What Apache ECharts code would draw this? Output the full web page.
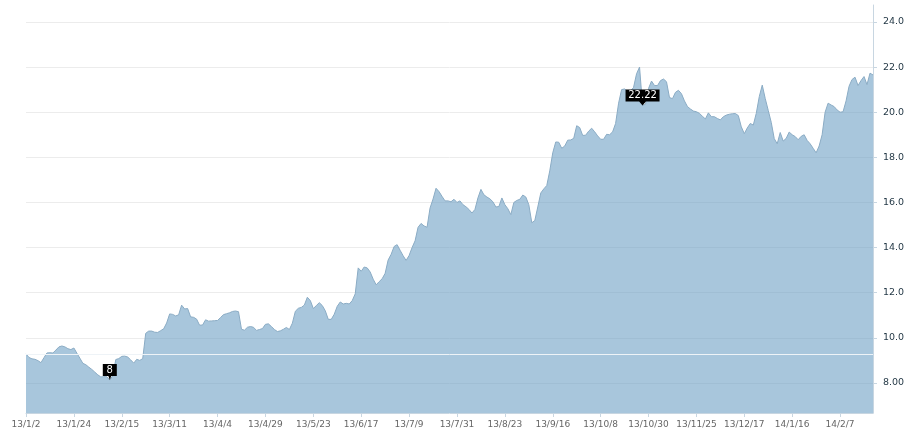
<!DOCTYPE html>
<html>
<head>
<meta charset="utf-8">
<script src="https://cdn.jsdelivr.net/npm/echarts@6/dist/echarts.min.js"></script>
<style>
  html, body { margin: 0; padding: 0; background: #fff; }
  #chart { width: 909px; height: 436px; }
</style>
</head>
<body>
<div id="chart"></div>
<script>
// Labelled dates on the x axis (one every 16 trading days)
var tickLabels = ['13/1/2', '13/1/24', '13/2/15', '13/3/11', '13/4/4', '13/4/29',
  '13/5/23', '13/6/17', '13/7/9', '13/7/31', '13/8/23', '13/9/16', '13/10/8',
  '13/10/30', '13/11/25', '13/12/17', '14/1/16', '14/2/7'];

// Closing prices
var prices = [
  9.29, 9.13, 9.07, 9.05, 8.99, 8.90, 9.12, 9.33, 9.34, 9.33, 9.46, 9.60, 9.64, 9.60, 9.52, 9.48,
  9.55, 9.32, 9.10, 8.87, 8.81, 8.70, 8.60, 8.48, 8.36, 8.27, 8.28, 8.28, 8.13, 8.33, 9.04, 9.08,
  9.18, 9.19, 9.15, 9.02, 8.88, 9.05, 9.00, 9.08, 10.20, 10.30, 10.30, 10.25, 10.24, 10.32, 10.40, 10.66,
  11.06, 11.04, 10.97, 11.02, 11.45, 11.28, 11.30, 10.93, 10.91, 10.83, 10.56, 10.57, 10.80, 10.74, 10.75, 10.76,
  10.77, 10.90, 11.03, 11.07, 11.11, 11.17, 11.19, 11.16, 10.38, 10.34, 10.47, 10.50, 10.47, 10.33, 10.37, 10.41,
  10.60, 10.62, 10.50, 10.37, 10.28, 10.31, 10.38, 10.46, 10.37, 10.65, 11.18, 11.31, 11.35, 11.45, 11.80, 11.65,
  11.30, 11.43, 11.56, 11.43, 11.20, 10.82, 10.82, 11.05, 11.40, 11.59, 11.50, 11.53, 11.50, 11.65, 11.95, 13.10,
  12.95, 13.14, 13.10, 12.92, 12.60, 12.35, 12.49, 12.62, 12.86, 13.45, 13.70, 14.05, 14.13, 13.88, 13.64, 13.43,
  13.65, 14.00, 14.30, 14.90, 15.07, 14.96, 14.90, 15.75, 16.15, 16.63, 16.48, 16.27, 16.07, 16.07, 16.03, 16.14,
  16.00, 16.07, 15.90, 15.81, 15.69, 15.53, 15.69, 16.20, 16.58, 16.34, 16.24, 16.16, 16.03, 15.80, 15.82, 16.20,
  15.90, 15.72, 15.46, 16.00, 16.09, 16.14, 16.33, 16.24, 15.90, 15.10, 15.20, 15.80, 16.42, 16.60, 16.75, 17.40,
  18.20, 18.68, 18.67, 18.40, 18.50, 18.76, 18.77, 18.84, 19.40, 19.32, 18.97, 18.98, 19.16, 19.29, 19.13, 18.95,
  18.80, 18.80, 19.02, 19.00, 19.13, 19.50, 20.40, 21.00, 21.03, 20.93, 20.94, 21.10, 21.70, 22.00, 20.30, 20.35,
  21.05, 21.38, 21.18, 21.18, 21.40, 21.47, 21.35, 20.65, 20.60, 20.88, 20.97, 20.82, 20.50, 20.25, 20.14, 20.05,
  20.02, 19.95, 19.82, 19.70, 19.97, 19.80, 19.80, 19.72, 19.66, 19.80, 19.87, 19.91, 19.93, 19.94, 19.85, 19.35,
  19.05, 19.30, 19.50, 19.43, 19.95, 20.69, 21.20, 20.60, 20.08, 19.55, 18.83, 18.60, 19.10, 18.72, 18.84, 19.12,
  19.00, 18.92, 18.78, 18.93, 19.00, 18.75, 18.60, 18.40, 18.20, 18.50, 19.00, 20.00, 20.40, 20.32, 20.25, 20.10,
  20.00, 20.02, 20.50, 21.15, 21.45, 21.55, 21.18, 21.40, 21.58, 21.22, 21.73, 21.65
];

// Flag markers: which point and what they say
var flagIndex = [28, 206];
var flagText = ['8', '22.22'];

// Build the trading-day categories: each labelled date plus the weekdays after it
var dates = [];
tickLabels.forEach(function (lab, k) {
  var p = lab.split('/');
  var d = new Date(2000 + Number(p[0]), Number(p[1]) - 1, Number(p[2]));
  var n = k < tickLabels.length - 1 ? 16 : prices.length - 16 * k;
  for (var j = 0; j < n; j++) {
    dates.push((d.getFullYear() % 100) + '/' + (d.getMonth() + 1) + '/' + d.getDate());
    do {
      d.setDate(d.getDate() + 1);
    } while (d.getDay() === 0 || d.getDay() === 6);
  }
});

var flagPath = 'path://M0,0H100V75H60L50,100L40,75H0Z';
var flags = flagIndex.map(function (idx, k) {
  var w = flagText[k].length > 2 ? 34 : 14;
  return {
    coord: [dates[idx], prices[idx]],
    value: flagText[k],
    symbol: flagPath,
    symbolSize: [w, 16],
    symbolOffset: [0, -8]
  };
});

var chart = echarts.init(document.getElementById('chart'));
chart.setOption({
  animation: false,
  textStyle: {
    fontFamily: 'DejaVu Sans, Verdana, sans-serif'
  },
  grid: {
    left: 26,
    right: 36,
    top: 5,
    bottom: 23
  },
  xAxis: {
    type: 'category',
    data: dates,
    boundaryGap: false,
    axisLine: {
      lineStyle: { color: '#c8d6e1' }
    },
    axisTick: {
      interval: 15,
      length: 4,
      lineStyle: { color: '#c8d6e1' }
    },
    axisLabel: {
      interval: 15,
      color: '#666',
      fontSize: 9,
      margin: 7
    },
    splitLine: { show: false }
  },
  yAxis: {
    type: 'value',
    position: 'right',
    min: 6.67,
    max: 24.75,
    splitNumber: 9,
    minInterval: 2,
    maxInterval: 2,
    axisLine: {
      show: true,
      lineStyle: { color: '#c8d6e1' }
    },
    axisTick: {
      show: true,
      length: 4,
      lineStyle: { color: '#c8d6e1' }
    },
    axisLabel: {
      showMinLabel: false,
      showMaxLabel: false,
      color: '#1f3442',
      fontSize: 9.5,
      margin: 10,
      formatter: function (v) {
        return v >= 10 ? v.toFixed(1) : v.toFixed(2);
      }
    },
    splitLine: {
      showMinLine: false,
      showMaxLine: false,
      lineStyle: { color: '#ececec' }
    }
  },
  series: [{
    type: 'line',
    data: prices,
    symbol: 'none',
    smooth: false,
    lineStyle: {
      color: '#8aabc4',
      width: 1
    },
    areaStyle: {
      origin: 'start',
      opacity: 1,
      color: 'rgba(110,160,197,0.6)'
    },
    markLine: {
      silent: true,
      symbol: 'none',
      label: { show: false },
      lineStyle: {
        color: '#eef3f7',
        type: 'solid',
        width: 1
      },
      data: [{ yAxis: prices[0] }]
    },
    markPoint: {
      silent: true,
      itemStyle: { color: '#000' },
      label: {
        show: true,
        position: 'inside',
        offset: [0, -2],
        color: '#fff',
        fontSize: 10,
        formatter: '{c}'
      },
      data: flags
    }
  }]
});
</script>
</body>
</html>
